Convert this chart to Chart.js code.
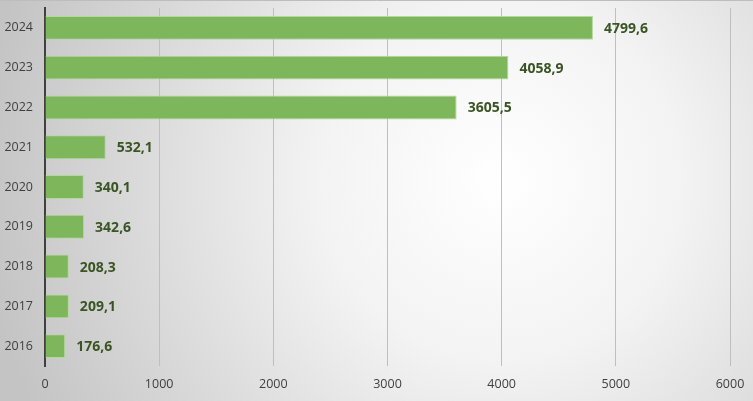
<!DOCTYPE html>
<html>
<head>
<meta charset="utf-8">
<script src="https://cdn.jsdelivr.net/npm/chart.js@4"></script>
<style>
html,body{margin:0;padding:0;background:#fff;}
#wrap{width:753px;height:401px;position:relative;}
</style>
</head>
<body>
<div id="wrap"><canvas id="c" width="753" height="401"></canvas></div>
<script>
const categories = ["2024","2023","2022","2021","2020","2019","2018","2017","2016"];
const values = [4799.6, 4058.9, 3605.5, 532.1, 340.1, 342.6, 208.3, 209.1, 176.6];
const xTicks = [0, 1000, 2000, 3000, 4000, 5000, 6000];

const bgPlugin = {
  id: 'bg',
  beforeDraw(chart) {
    const ctx = chart.ctx;
    const w = chart.width, h = chart.height;
    ctx.save();
    const g = ctx.createRadialGradient(500, 180, 0, 500, 180, 520);
    g.addColorStop(0, '#ffffff');
    g.addColorStop(0.35, '#f3f3f3');
    g.addColorStop(1, '#c4c4c4');
    ctx.fillStyle = g;
    ctx.fillRect(0, 0, w, h);
    ctx.strokeStyle = '#bdbdbd';
    ctx.lineWidth = 1;
    ctx.beginPath();
    ctx.moveTo(0, 0.5); ctx.lineTo(w, 0.5);
    ctx.stroke();
    ctx.restore();
  }
};

const labelPlugin = {
  id: 'vlabels',
  afterDatasetsDraw(chart) {
    const ctx = chart.ctx;
    const meta = chart.getDatasetMeta(0);
    ctx.save();
    ctx.font = 'bold 14px "Open Sans", sans-serif';
    ctx.fillStyle = '#3a5424';
    ctx.textAlign = 'left';
    ctx.textBaseline = 'middle';
    meta.data.forEach((bar, i) => {
      const txt = values[i].toFixed(1).replace('.', ',');
      ctx.fillText(txt, bar.x + 11, bar.y + 1);
    });
    ctx.restore();
  }
};

new Chart(document.getElementById('c'), {
  type: 'bar',
  data: {
    labels: categories,
    datasets: [{
      data: values,
      backgroundColor: '#7eb65c',
      borderColor: '#b4d89c',
      borderWidth: 1,
      borderSkipped: 'start',
      barPercentage: 0.6,
      categoryPercentage: 1.0
    }]
  },
  options: {
    indexAxis: 'y',
    responsive: false,
    animation: false,
    events: [],
    layout: { padding: { top: 8, right: 23, left: 0, bottom: 0 } },
    plugins: { legend: { display: false }, tooltip: { enabled: false } },
    scales: {
      x: {
        min: 0, max: 6000,
        afterBuildTicks(scale) { scale.ticks = xTicks.map(v => ({ value: v })); },
        afterFit(scale) { scale.height = 35; scale.paddingLeft = 0; scale.paddingRight = 0; },
        grid: { color: '#bfbfbf', lineWidth: 1, drawTicks: false },
        border: { display: false },
        ticks: { color: '#404040', font: { family: '"Open Sans", sans-serif', size: 12.5 }, padding: 11,
                 callback: (v) => String(v) }
      },
      y: {
        afterFit(scale) { scale.width = 45; scale.paddingTop = 0; scale.paddingBottom = 0; },
        grid: { display: false, drawTicks: false },
        border: { display: true, color: '#404040', width: 2 },
        ticks: { color: '#404040', font: { family: '"Open Sans", sans-serif', size: 12.5 }, padding: 12 }
      }
    }
  },
  plugins: [bgPlugin, labelPlugin]
});
</script>
</body>
</html>
